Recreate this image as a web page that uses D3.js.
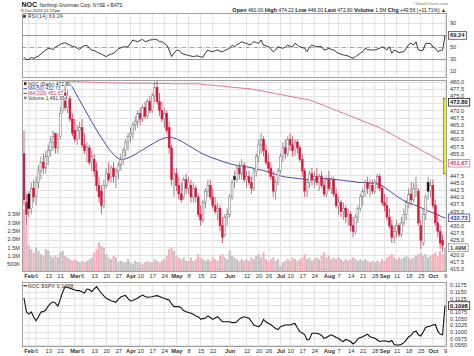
<!DOCTYPE html>
<html><head><meta charset="utf-8">
<script src="https://cdnjs.cloudflare.com/ajax/libs/d3/7.8.5/d3.min.js"></script>
<style>body{margin:0;background:#fff}svg{display:block;font-family:"Liberation Sans",Arial,sans-serif}</style>
</head><body><svg id="c" width="474" height="356"></svg>
<script>
// ---------- DATA ----------
const holidays = ["2023-02-20","2023-04-07","2023-05-29","2023-06-19","2023-07-04","2023-09-04"];
const firstDay = "2023-01-30", lastDay = "2023-10-09";
const open = [455,438,441,436,443,440,445,449,452,450,454,456,459,462,457,461,470,476,471,474,467,
463,460,463,464,458,456,457,452,453,449,444,442,437,444,448,447,450,447,449,451,453,456,459,
461,462,465,466,469,467,471,468,473,470,475,478,473,470,467,469,464,457,446,448,444,441,440,446,
443,444,440,443,440,434,432,438,442,444,440,437,435,436,430,427,433,434,440,447,446,450,448,451,
446,447,445,443,449,454,458,460,456,452,450,447,442,445,449,454,457,455,460,458,456,459,457,453,
449,442,445,448,446,447,445,447,444,441,446,443,446,441,437,438,435,436,433,434,430,428,433,436,
440,442,445,443,444,442,445,447,443,438,437,433,430,426,428,430,427,431,434,438,441,439,443,442,
430,424,434,445,442,444,437,431,428,425,460];
const high = [463,441,442,445,446,447,451,454,455,456,458,461,463,462,462,471,477,479,477,475,469,
467,465,466,467,462,459,458,456,455,452,447,444,446,450,452,451,452,450,452,455,457,460,462,
464,466,468,470,471,472,473,474,475,476,480,481,476,473,471,470,466,458,450,450,447,445,447,448,
447,446,445,444,441,437,439,443,446,446,443,440,438,437,433,434,436,441,446,449,451,452,453,452,
449,449,447,450,455,460,462,461,458,455,452,449,446,450,455,459,460,461,462,461,460,460,458,455,
450,446,449,450,449,450,448,449,446,447,449,447,447,443,440,439,438,437,436,435,433,434,437,441,
443,446,447,446,446,446,448,448,444,441,440,436,432,430,432,431,433,436,439,443,445,445,447,443,
432,436,441,447,446,446,439,434,430,427,474.22];
const low = [437,430,433,434,438,437,443,446,448,448,451,454,456,455,455,460,469,470,469,466,461,
459,458,460,457,455,452,451,449,447,442,438,434,436,443,445,445,445,443,446,449,451,454,456,
459,460,463,464,465,466,467,467,469,469,473,472,468,466,464,462,455,444,440,442,439,438,439,441,
441,438,438,438,433,430,431,436,440,439,436,434,432,428,424,426,430,433,439,443,445,446,446,445,
443,444,441,442,447,452,455,454,451,448,446,440,439,444,448,452,453,454,456,454,454,455,452,447,
440,440,443,444,443,444,442,443,440,440,442,441,440,436,434,433,432,431,430,428,426,427,431,435,
437,440,441,440,441,441,443,442,437,435,432,429,424,424,426,426,426,430,432,436,437,438,440,430,
422,423,432,439,440,436,430,426,422,421,448];
const close = [439,434,436,443,440,445,449,452,450,454,456,459,461,457,460,469,475,471,475,467,462,
460,463,464,458,456,457,452,454,449,444,440,437,444,448,446,450,447,449,451,453,456,459,461,
462,465,466,469,467,471,468,473,470,475,478,473,470,467,469,463,457,446,448,444,441,439,446,443,
445,440,443,440,434,432,438,442,444,440,437,435,436,430,426,433,434,440,445,446,450,448,451,446,
447,445,443,449,454,458,460,456,452,450,447,442,445,449,454,457,455,460,458,456,459,457,453,449,
442,445,448,446,447,445,447,444,441,446,443,446,441,437,438,435,436,433,434,430,428,433,436,440,
442,445,443,444,442,445,447,443,438,437,433,430,426,428,430,427,431,434,438,441,439,443,444,431,
425,434,440,442,444,437,431,428,424,423.24,472.8];
const volumeM = [3.8,2.7,1.6,1.4,1.2,1.5,1.3,1.1,1.0,1.4,1.3,1.0,0.9,1.0,0.9,1.2,1.3,1.0,0.9,0.8,0.7,
0.8,0.7,0.6,0.7,0.6,0.7,0.8,0.9,1.2,1.4,1.8,1.6,1.5,1.1,0.9,0.8,1.0,0.9,0.6,0.7,0.6,0.6,0.8,
0.6,0.5,0.7,0.6,0.6,0.5,0.6,0.7,0.6,0.6,0.8,0.7,0.6,0.7,0.8,1.0,1.4,1.5,1.3,1.0,0.9,0.8,0.9,0.7,
0.7,0.9,0.7,0.8,1.1,0.9,0.8,0.7,0.8,0.7,0.9,0.8,0.7,1.0,1.1,0.9,0.8,1.3,1.0,0.9,0.8,0.7,0.8,0.7,
0.8,0.7,0.9,0.8,1.0,1.1,0.9,1.2,0.8,0.7,0.8,0.9,0.7,0.8,0.4,0.6,0.7,0.8,0.7,0.9,0.8,0.7,0.8,0.9,
1.1,0.8,0.9,0.7,0.8,0.9,0.8,1.0,1.2,0.9,1.0,0.8,0.9,0.8,0.9,0.8,0.7,0.8,0.7,0.8,0.9,0.8,0.7,0.8,
0.7,0.8,0.7,0.6,0.7,0.6,0.7,0.6,0.8,0.7,0.9,1.0,1.1,0.9,0.8,0.9,0.8,0.9,1.0,0.9,0.8,0.9,1.0,1.1,
1.2,1.0,1.1,0.9,1.0,1.1,1.2,1.0,1.3,1.1,1.49];
const ma50 = [493,492.5,492,491.5,491,490.5,490,489.5,489,488.5,488,487,486,485,484,483,482,481,480,479.2,
478,476.5,475,473.5,472,470.5,469,467.5,466,464.6,463.2,461.8,460.5,459.2,458,456.8,455.7,454.7,453.9,453.3,
453,453,453.2,453.5,453.9,454.3,454.8,455.3,455.8,456.3,456.8,457.3,457.8,458.3,458.8,459.3,459.7,460.1,460.4,460.6,
460.7,460.6,460.4,460.1,459.7,459.3,458.8,458.3,457.8,457.3,456.8,456.3,455.8,455.3,454.9,454.5,454.1,453.8,453.5,453.2,
452.9,452.6,452.3,452,451.8,451.5,451.3,451.1,450.9,450.7,450.6,450.5,450.4,450.3,450.1,449.9,449.7,449.5,449.3,449.1,
448.9,448.7,448.4,448.1,447.8,447.5,447.3,447.1,446.9,446.8,446.7,446.6,446.5,446.4,446.3,446.2,446.1,446,445.9,445.9,
446,446.1,446.2,446.3,446.3,446.3,446.3,446.2,446.1,446,445.9,445.8,445.7,445.6,445.5,445.4,445.3,445.2,445.1,445,
445,445,444.9,444.8,444.7,444.6,444.5,444.2,443.8,443.3,442.7,442.1,441.5,440.9,440.3,439.7,439.2,438.7,438.3,437.9,
437.6,437.3,437,436.7,436.3,435.9,435.5,435.1,434.8,434.5,434.2,433.8,433.4,433,432.73];
const ma200 = [480.6,480.6,480.5,480.5,480.5,480.4,480.4,480.4,480.3,480.3,480.3,480.2,480.2,480.2,480.1,480.1,480.1,480.0,480.0,480.0,479.9,
479.9,479.9,479.9,479.8,479.8,479.8,479.8,479.7,479.7,479.7,479.7,479.6,479.6,479.6,479.6,479.5,479.5,479.5,479.5,479.5,
479.4,479.4,479.4,479.4,479.4,479.4,479.4,479.4,479.4,479.4,479.4,479.4,479.3,479.3,479.3,479.3,479.3,479.3,479.3,479.3,
479.2,479.2,479.2,479.2,479.2,479.2,479.2,479.2,479.2,479.2,479.2,479.2,
479.1,479.0,478.9,478.8,478.8,478.7,478.6,478.5,478.4,478.4,478.3,478.2,478.1,478.0,477.9,477.9,477.8,477.7,477.6,477.6,477.5,
477.4,477.2,477.1,476.9,476.8,476.6,476.4,476.3,476.1,476.0,475.8,475.6,475.5,475.3,475.2,475.0,474.8,474.7,474.5,474.4,474.2,474.1,473.9,473.8,473.6,
473.3,473.0,472.6,472.3,472.0,471.7,471.3,471.0,470.7,470.3,470.0,469.7,469.3,469.0,468.7,468.3,468.0,467.7,467.3,467.0,466.7,466.3,466.0,465.7,465.3,465.0,464.7,464.3,464.0,
463.5,463.1,462.6,462.2,461.7,461.3,460.8,460.3,459.9,459.4,459.0,458.5,458.1,457.6,457.2,456.7,456.3,455.8,455.3,454.9,454.4,454.0,453.5,453.1,452.6,452.2,451.67];
const rsi = [33,28.5,29.5,32.5,31,33,35,38,42,45,47.5,47,46,50,52,54.5,56,57,55,53,51,
50.5,48,46,50.5,52,53,48,45,44,42,40,38,36,34,36.5,38,39.5,43,47,48.5,50.5,50,50.5,
56,61.7,60,58.8,61,62.8,59,60,61.7,62,63.3,62,59,58.8,56,53,45,34,40,44,45,40,38,37,
36,35,34,35,35,33.5,33,40,45,43,42,44,45,43,42,44,46,48,53,50.5,54,56,58.8,57,
56,53.5,55,58.8,57.5,56,61.7,53,52,50.5,47,42,45,50.5,49,47.8,50,53.3,51,50.5,56.2,53,50.5,49,
47.8,42,50,53.3,51.5,50.5,51,50.5,45,46,47.8,46,45,42,39.5,38,36.7,36,35,33,31.2,34,36.7,40,
42.2,47.8,46,45,45,45,46.5,47.8,50.5,48,45,50.5,39.5,45,43,40.5,41.5,42.2,48,54,56.2,53.3,58.8,45,
44,45,56.2,56,56.2,50,47.8,42.2,44,45,69.24];
const ratio = [0.1126,0.1074,0.1066,0.1074,0.1055,0.1041,0.1056,0.1074,0.1075,0.1081,0.1096,0.1106,0.1112,0.1107,0.1096,0.1122,0.1149,0.1169,0.1166,0.1163,0.1160,
0.1156,0.1154,0.1154,0.1149,0.1145,0.1160,0.1158,0.1150,0.1160,0.1169,0.1156,0.1144,0.1134,0.1125,0.1121,0.1116,0.1113,0.1110,0.1122,0.1130,
0.1134,0.1136,0.1124,0.1115,0.1117,0.1122,0.1126,0.1132,0.1137,0.1132,0.1129,0.1130,0.1131,0.1134,0.1135,0.1132,0.1128,0.1125,0.1121,0.1119,
0.1104,0.1094,0.1094,0.1094,0.1089,0.1079,0.1075,0.1072,0.1069,0.1065,0.1059,0.1056,0.1047,0.1049,0.1051,0.1059,0.1053,0.1046,0.1051,0.1056,
0.1047,0.1037,0.1037,0.1037,0.1037,0.1034,0.1034,0.1037,0.1047,0.1053,0.1056,0.1053,0.1050,0.1038,0.1025,0.1021,0.1019,0.1027,0.1046,0.1037,
0.1031,0.1027,0.1019,0.1012,0.1008,0.1019,0.1022,0.1025,0.1025,0.1025,0.1029,0.1031,0.1014,0.1000,0.0995,0.0989,0.0969,0.0971,0.0994,0.0994,
0.0994,0.0991,0.0986,0.0975,0.0978,0.0984,0.0988,0.0984,0.0978,0.0975,0.0967,0.0963,0.0971,0.0967,0.0963,0.0954,0.0961,0.0974,0.0978,0.0981,
0.0986,0.0991,0.0981,0.0978,0.0975,0.0969,0.0963,0.0965,0.0966,0.0964,0.0962,0.0967,0.0952,0.0950,0.0950,0.0953,0.0959,0.0969,0.0981,0.0986,
0.0999,0.1002,0.0988,0.0984,0.0999,0.1016,0.1019,0.1021,0.1025,0.1027,0.1002,0.0991,0.0988,0.1098];
const tickDates = ["2023-02-01","2023-02-06","2023-02-13","2023-02-21","2023-03-01","2023-03-06","2023-03-13","2023-03-20","2023-03-27","2023-04-03","2023-04-10","2023-04-17","2023-04-24","2023-05-01","2023-05-08","2023-05-15","2023-05-22","2023-06-01","2023-06-12","2023-06-20","2023-06-26","2023-07-03","2023-07-10","2023-07-17","2023-07-24","2023-08-01","2023-08-07","2023-08-14","2023-08-21","2023-08-28","2023-09-01","2023-09-11","2023-09-18","2023-09-25","2023-10-02","2023-10-09"];
const tickLabels = ["Feb","6","13","21","Mar","6","13","20","27","Apr","10","17","24","May","8","15","22","Jun","12","20","26","Jul","10","17","24","Aug","7","14","21","28","Sep","11","18","25","Oct","9"];
const priceTicks = d3.range(415, 480.01, 2.5);
const volTicks = [0.5,1,1.5,2,2.5,3,3.5];
const rsiTicks = [10,30,50,70,90];
const ratioTicks = d3.range(0.095, 0.11751, 0.0025);

// ---------- SETUP ----------
const fmtD = d3.utcFormat("%Y-%m-%d"), parseD = d3.utcParse("%Y-%m-%d");
const dates = d3.utcDay.range(parseD(firstDay), d3.utcDay.offset(parseD(lastDay),1))
  .map(fmtD).filter(s => { const g = parseD(s).getUTCDay(); return g!==0 && g!==6 && !holidays.includes(s); });
const rows = dates.map((d,i)=>({d, o:open[i], h:high[i], l:low[i], c:close[i], v:volumeM[i]*1e6,
  pc: i>0?close[i-1]:close[i]+1, m50:ma50[i], m200:ma200[i], r:rsi[i], q:ratio[i]}));

const L=22, R=447;
const P = {rsi:[13,78], main:[80,272], ratio:[282,347]};
const x = d3.scalePoint().domain(dates).range([24,445]);
const yR = d3.scaleLinear().domain([0,100]).range([77,17]);
const yP = d3.scaleLinear().domain([415,480]).range([269,81.5]);
const yV = d3.scaleLinear().domain([0,3.5e6]).range([272.5,214]);
const yQ = d3.scaleLinear().domain([0.095,0.1175]).range([345,285]);

const svg = d3.select("#c");
const RED="#dc143c", GRID="#e2e2e2", BORDER="#a0a0a0";
const defs = svg.append("defs");
Object.entries(P).forEach(([k,[t,b]])=>defs.append("clipPath").attr("id","clip-"+k).append("rect").attr("x",L).attr("y",t).attr("width",R-L).attr("height",b-t));

function panelGrid(key, yScale, hTicks){
  const [t,b]=P[key];
  const g=svg.append("g");
  g.append("rect").attr("x",L).attr("y",t).attr("width",R-L).attr("height",b-t).attr("fill","#fff");
  g.selectAll("line.v").data(tickDates).join("line").attr("x1",d=>x(d)).attr("x2",d=>x(d)).attr("y1",t).attr("y2",b).attr("stroke",GRID).attr("stroke-width",1);
  g.selectAll("line.h").data(hTicks).join("line").attr("x1",L).attr("x2",R).attr("y1",d=>Math.round(yScale(d))+0.5).attr("y2",d=>Math.round(yScale(d))+0.5).attr("stroke",GRID);
}
function panelBorder(key){
  const [t,b]=P[key];
  svg.append("rect").attr("x",L+0.5).attr("y",t+0.5).attr("width",R-L-1).attr("height",b-t-1).attr("fill","none").attr("stroke",BORDER);
}
// right axis: tick labels hidden where a value box sits (as in the reference)
function rightAxis(yScale, ticks, fmt, boxYs){
  const shown = ticks.filter(t => boxYs.every(by => Math.abs(yScale(t)-by) > 6));
  const g=svg.append("g").attr("transform",`translate(${R},0)`).call(d3.axisRight(yScale).tickValues(shown).tickFormat(fmt).tickSize(0).tickPadding(3));
  g.select(".domain").remove();
  g.selectAll("text").attr("font-size",5.6).attr("fill","#333").attr("font-family","Liberation Sans, Arial");
}
function valueBox(y, txt, stroke, color){
  const g=svg.append("g");
  const r=g.append("rect");
  const t=g.append("text").attr("x",450).attr("y",y).attr("dy","0.35em").attr("font-size",5.8).attr("font-weight","bold").attr("fill",color).text(txt);
  const w=t.node().getComputedTextLength();
  r.attr("x",448.5).attr("y",y-3.8).attr("width",w+3.5).attr("height",7.6).attr("fill","#fff").attr("stroke",stroke).attr("stroke-width",0.8);
}
function dateAxis(yPos){
  const g=svg.append("g").attr("transform",`translate(0,${yPos})`).call(d3.axisBottom(x).tickValues(tickDates).tickFormat((d,i)=>tickLabels[i]).tickSize(0).tickPadding(2));
  g.select(".domain").remove();
  g.selectAll("text").attr("font-size",5.8).attr("fill","#333").attr("font-family","Liberation Sans, Arial")
    .attr("font-weight",(d,i)=>isNaN(+tickLabels[i])?"bold":"normal");
}

// ---------- HEADER ----------
svg.append("text").attr("x",21.5).attr("y",7).attr("font-size",7).attr("font-weight","bold").attr("fill","#111").text("NOC");
svg.append("text").attr("x",39.5).attr("y",6.9).attr("font-size",4.6).attr("fill","#222").text("Northrop Grumman Corp.  NYSE + BATS");
svg.append("text").attr("x",21).attr("y",12.1).attr("font-size",4.3).attr("fill","#222").text("9-Oct-2023 12:17pm");
svg.append("text").attr("x",448).attr("y",5).attr("text-anchor","end").attr("font-size",4.2).attr("fill","#777").text("©StockCharts.com");
const hdr = svg.append("text").attr("x",446).attr("y",11.6).attr("text-anchor","end").attr("font-size",5).attr("fill","#222");
[["Open"," 460.00  "],["High"," 474.22  "],["Low"," 448.00  "],["Last"," 472.80  "],["Volume"," 1.5M  "],["Chg"," +49.56 (+11.71%) \u25B2"]]
 .forEach(([a,b])=>{hdr.append("tspan").attr("font-weight","bold").attr("font-size",5.6).text(a); hdr.append("tspan").text(b);});

// ---------- RSI PANEL ----------
panelGrid("rsi", yR, [10,90]);
[[70,"#888",null],[30,"#888",null],[50,"#999","4,1.5,1,1.5"]].forEach(([v,c,da])=>{
  svg.append("line").attr("x1",L).attr("x2",R).attr("y1",Math.round(yR(v))+0.5).attr("y2",Math.round(yR(v))+0.5).attr("stroke",c).attr("stroke-width",0.9).attr("stroke-dasharray",da);
});
svg.append("path").datum(rows).attr("clip-path","url(#clip-rsi)").attr("fill","none").attr("stroke","#222").attr("stroke-width",0.9)
  .attr("d",d3.line().x(d=>x(d.d)).y(d=>yR(d.r)));
panelBorder("rsi");
rightAxis(yR, rsiTicks, d3.format("d"), [yR(69.24)]);
valueBox(yR(69.24),"69.24","#444","#222");
svg.append("rect").attr("x",23).attr("y",14.8).attr("width",3).attr("height",3).attr("fill","#444");
svg.append("text").attr("x",28).attr("y",18).attr("font-size",4.8).attr("fill","#333").attr("letter-spacing",0.4).text("RSI(14) 69.24");

// ---------- MAIN PANEL ----------
panelGrid("main", yP, priceTicks);
const gm = svg.append("g").attr("clip-path","url(#clip-main)");
// volume
gm.selectAll("rect.vol").data(rows).join("rect").attr("x",d=>x(d.d)-1.1).attr("width",2.2)
  .attr("y",d=>yV(d.v)).attr("height",d=>yV(0)-yV(d.v))
  .attr("fill",d=>d.c<d.pc?"#f2aab6":"#bcbcbc").attr("opacity",0.9);
// MAs
gm.append("path").datum(rows).attr("fill","none").attr("stroke","#e07585").attr("stroke-width",1).attr("d",d3.line().x(d=>x(d.d)).y(d=>yP(d.m200)));
gm.append("path").datum(rows).attr("fill","none").attr("stroke","#4848a8").attr("stroke-width",1).attr("d",d3.line().x(d=>x(d.d)).y(d=>yP(d.m50)));
// candles
const candles = rows.slice(0,-1);
const cColor = d=> d.c<d.pc ? RED : "#666";
gm.selectAll("line.wick").data(candles).join("line").attr("x1",d=>x(d.d)).attr("x2",d=>x(d.d))
  .attr("y1",d=>yP(d.h)).attr("y2",d=>yP(d.l)).attr("stroke",cColor).attr("stroke-width",0.7);
gm.selectAll("rect.body").data(candles).join("rect").attr("x",d=>x(d.d)-0.95).attr("width",1.9)
  .attr("y",d=>yP(Math.max(d.o,d.c))).attr("height",d=>Math.max(0.8,Math.abs(yP(d.o)-yP(d.c))))
  .attr("fill",d=> d.c>=d.o ? "#f6f6f6" : (d.c<d.pc?RED:"#111"))
  .attr("stroke",d=> d.c>=d.o ? (d.c<d.pc?RED:"#777") : (d.c<d.pc?RED:"#111")).attr("stroke-width",0.5);
// last candle (highlighted)
const lastRow = rows[rows.length-1];
gm.append("rect").attr("x",x(lastRow.d)-1.4).attr("width",2.8).attr("y",yP(lastRow.h)).attr("height",yP(lastRow.l)-yP(lastRow.h))
  .attr("fill","#f0ee20").attr("stroke","#555").attr("stroke-width",0.6);
panelBorder("main");
const mainBoxes = [yP(472.8), yP(451.67), yP(432.73), yV(1.49e6)];
rightAxis(yP, priceTicks, d3.format(".1f"), mainBoxes);
// left volume axis
{
 const g=svg.append("g").attr("transform",`translate(${L},0)`).call(d3.axisLeft(yV).tickValues(volTicks.map(v=>v*1e6)).tickFormat(v=>v<1e6?"500K":(v/1e6).toFixed(1)+"M").tickSize(0).tickPadding(2));
 g.select(".domain").remove();
 g.selectAll("text").attr("font-size",5.6).attr("fill","#333").attr("font-family","Liberation Sans, Arial");
}
valueBox(yP(472.8),"472.80","#222","#111");
valueBox(yP(451.67),"451.67","#e07585","#d03050");
valueBox(yP(432.73),"432.73","#4848a8","#3838a0");
valueBox(yV(1.49e6),"1.49M","#999","#444");
// legend
const leg = [["NOC (Daily) 472.80","#222","candle"],["MA(50) 432.73","#3838a0","line"],["MA(200) 451.67","#d03050","line"],["Volume 1,491,954","#333","bar"]];
const gl = svg.append("g");
leg.forEach(([txt,col,kind],i)=>{
  const yy = 85.6 + i*4.7;
  const bg = gl.append("rect");
  const t = gl.append("text").attr("x",28).attr("y",yy).attr("font-size",4.9).attr("fill",col).text(txt);
  const w = t.node().getComputedTextLength();
  bg.attr("x",23).attr("y",yy-4).attr("width",w+6).attr("height",4.7).attr("fill","#fff");
  if(kind==="line") gl.append("line").attr("x1",23.5).attr("x2",27).attr("y1",yy-1.6).attr("y2",yy-1.6).attr("stroke",col).attr("stroke-width",1);
  else if(kind==="candle") gl.append("rect").attr("x",24).attr("y",yy-3.5).attr("width",2.5).attr("height",3).attr("fill","#333");
  else gl.append("rect").attr("x",24).attr("y",yy-3.2).attr("width",2.5).attr("height",2.8).attr("fill","#888");
});
dateAxis(P.main[1]);

// ---------- RATIO PANEL ----------
panelGrid("ratio", yQ, ratioTicks);
svg.append("path").datum(rows).attr("clip-path","url(#clip-ratio)").attr("fill","none").attr("stroke","#111").attr("stroke-width",1.1)
  .attr("d",d3.line().x(d=>x(d.d)).y(d=>yQ(d.q)));
panelBorder("ratio");
rightAxis(yQ, ratioTicks, d3.format(".4f"), [yQ(0.1098)]);
valueBox(yQ(0.1098),"0.1098","#222","#111");
svg.append("text").attr("x",28).attr("y",287.5).attr("font-size",4.9).attr("fill","#333").attr("letter-spacing",0.3).text("NOC:$SPX 0.1098");
svg.append("line").attr("x1",23.5).attr("x2",27).attr("y1",285.8).attr("y2",285.8).attr("stroke","#111").attr("stroke-width",1);
dateAxis(P.ratio[1]);
</script></body></html>
